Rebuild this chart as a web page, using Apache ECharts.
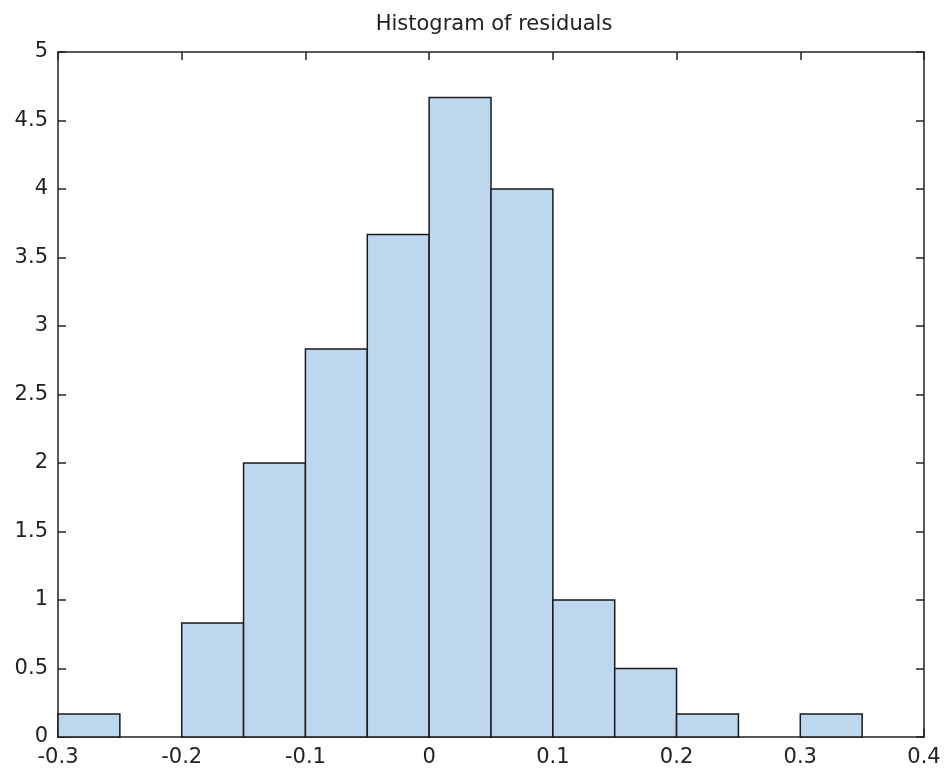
<!DOCTYPE html>
<html>
<head>
<meta charset="utf-8">
<script src="https://cdn.jsdelivr.net/npm/echarts@6/dist/echarts.min.js"></script>
<style>html,body{margin:0;padding:0;background:#fff;}#chart{width:945px;height:773px;}</style>
</head>
<body>
<div id="chart"></div>
<script>
const binStarts = [-0.3, -0.25, -0.2, -0.15, -0.1, -0.05, 0, 0.05, 0.1, 0.15, 0.2, 0.25, 0.3, 0.35];
const binWidth = 0.05;
const heights = [0.167, 0, 0.833, 2, 2.833, 3.667, 4.667, 4, 1, 0.5, 0.167, 0, 0.167, 0];
const xTicks = [-0.3, -0.2, -0.1, 0, 0.1, 0.2, 0.3, 0.4];
const yTicks = [0, 0.5, 1, 1.5, 2, 2.5, 3, 3.5, 4, 4.5, 5];

const data = binStarts.map((s, i) => [s, s + binWidth, heights[i]]).filter(d => d[2] > 0);

const chart = echarts.init(document.getElementById('chart'));
const font = 'DejaVu Sans, Verdana, sans-serif';
const axisCommon = {
  axisLine: {show: true, onZero: false, lineStyle: {color: '#222', width: 1.5}},
  axisTick: {show: true, inside: true, length: 8, lineStyle: {color: '#222', width: 1.5}},
  splitLine: {show: false}
};
chart.setOption({
  animation: false,
  title: {text: 'Histogram of residuals', left: 489, top: 9, textAlign: 'center',
    textStyle: {fontFamily: font, fontSize: 21, fontWeight: 'normal', color: '#222'}},
  grid: {left: 58, right: 21, top: 52, bottom: 36},
  xAxis: [
    Object.assign({type: 'value', min: -0.3, max: 0.4, interval: 0.1, position: 'bottom',
      axisLabel: {fontFamily: font, fontSize: 21, color: '#222', margin: 10,
        formatter: v => { const r = Math.round(v * 10) / 10; return r === 0 ? '0' : String(r); }}}, axisCommon),
    Object.assign({type: 'value', min: -0.3, max: 0.4, interval: 0.1, position: 'top',
      axisLabel: {show: false}}, axisCommon)
  ],
  yAxis: [
    Object.assign({type: 'value', min: 0, max: 5, interval: 0.5, position: 'left',
      axisLabel: {fontFamily: font, fontSize: 21, color: '#222', margin: 10,
        formatter: v => String(Math.round(v * 10) / 10)}}, axisCommon),
    Object.assign({type: 'value', min: 0, max: 5, interval: 0.5, position: 'right',
      axisLabel: {show: false}}, axisCommon)
  ],
  series: [{
    type: 'custom',
    xAxisIndex: 0, yAxisIndex: 0,
    data: data,
    encode: {x: [0, 1], y: 2},
    renderItem: function (params, api) {
      const p0 = api.coord([api.value(0), 0]);
      const p1 = api.coord([api.value(1), api.value(2)]);
      return {
        type: 'rect',
        shape: {x: p0[0], y: p1[1], width: p1[0] - p0[0], height: p0[1] - p1[1]},
        style: {fill: '#bdd7ef', stroke: '#1a1a1a', lineWidth: 1.5}
      };
    }
  }]
});
</script>
</body>
</html>
